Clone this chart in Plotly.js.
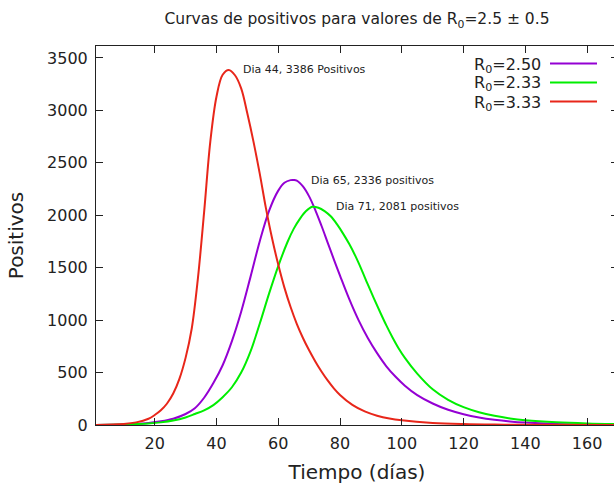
<!DOCTYPE html>
<html>
<head>
<meta charset="utf-8">
<script src="https://cdn.plot.ly/plotly-3.0.1.min.js"></script>
<style>
html,body{margin:0;padding:0;overflow:hidden;background:#fff;}
#chart{width:618px;height:484px;}
</style>
</head>
<body>
<div id="chart"></div>
<script>
// R0 = 2.50 (purple)
const days250 = [1,10,14,18,22,26,30,33,36,39,42,45,48,51,54,57,60,62,64,65,66,68,70,72,74,76,78,80,83,86,89,92,95,98,101,105,110,115,120,125,130,135,140,150,160,170];
const r250    = [1,5,11,20,35,60,105,160,260,400,570,800,1080,1410,1750,2040,2235,2310,2335,2336,2330,2275,2180,2050,1900,1740,1580,1425,1200,1000,830,685,560,460,375,285,205,145,103,72,50,34,23,10,5,2];
// R0 = 2.33 (green)
const days233 = [1,10,14,18,22,26,30,33,36,39,42,45,48,51,54,57,60,63,65,67,69,71,73,75,77,79,81,83,85,87,89,91,93,95,97,99,101,105,110,115,120,125,130,135,140,150,160,170];
const r233    = [1,5,9,15,25,42,72,105,140,190,265,360,500,700,965,1250,1515,1745,1870,1965,2040,2081,2072,2040,1990,1915,1825,1725,1610,1480,1340,1205,1075,950,835,730,640,490,340,240,170,122,88,63,46,26,15,9];
// R0 = 3.33 (red)
const days333 = [1,10,14,18,20,22,24,26,28,30,32,34,36,38,40,42,44,46,48,50,52,54,56,58,60,62,64,66,68,70,72,74,76,78,80,84,88,92,96,100,110,120,130,140,170];
const r333    = [1,10,25,60,95,140,205,300,440,640,920,1400,2030,2700,3130,3340,3386,3335,3210,2970,2700,2400,2070,1780,1530,1310,1125,965,830,712,606,510,425,350,287,192,130,89,62,45,20,9,4,2,0];

const seriesNames = ['R<sub>0</sub>=2.50','R<sub>0</sub>=2.33','R<sub>0</sub>=3.33'];
const seriesX = [days250, days233, days333];
const seriesY = [r250, r233, r333];
const colors = ['#9400d3','#00ee00','#e8261a'];

const peakLabels = ['Dia 44, 3386 Positivos','Dia 65, 2336 positivos','Dia 71, 2081 positivos'];
const peakX = [48.0, 70.0, 78.0];
const peakY = [3386, 2336, 2081];

const font = 'DejaVu Sans, Verdana, sans-serif';

const traces = seriesY.map((ys,i)=>({
  x: seriesX[i], y: ys, type:'scatter', mode:'lines',
  line:{color:colors[i], width:2, shape:'spline', smoothing:1},
  name: seriesNames[i], showlegend:false, hoverinfo:'skip'
}));

const annotations = peakLabels.map((t,i)=>({
  x: peakX[i], y: peakY[i], xref:'x', yref:'y', text:t, showarrow:false,
  xanchor:'left', yanchor:'middle', font:{family:font, size:11, color:'#222'}
}));

// gnuplot-style legend: text right-aligned, line sample on the right (pixel rows)
const legendRowsY = [65, 84, 103];
const lineRowsY = [63.5, 82.5, 101.5];
const plotL = 96, plotW = 522, plotB = 425, plotH = 379;
legendRowsY.forEach((py,i)=>{
  annotations.push({
    x: (543-plotL)/plotW, y: (plotB-py)/plotH, xref:'paper', yref:'paper', text: seriesNames[i], showarrow:false,
    xanchor:'right', yanchor:'middle', font:{family:font, size:16, color:'#222'}
  });
});
const shapes = lineRowsY.map((py,i)=>({
  type:'line', xref:'paper', yref:'paper',
  x0:(550-plotL)/plotW, x1:(597-plotL)/plotW, y0:(plotB-py)/plotH, y1:(plotB-py)/plotH,
  line:{color:colors[i], width:2}
}));

const layout = {
  width:618, height:484,
  margin:{l:96, r:0, t:46, b:59},
  paper_bgcolor:'#fff', plot_bgcolor:'#fff',
  title:{text:'Curvas de positivos para valores de R<sub>0</sub>=2.5 ± 0.5', x:357/618, xanchor:'center', xref:'container', y:1-19/484, yanchor:'middle', yref:'container', font:{family:font, size:15.5, color:'#222'}},
  xaxis:{range:[1,170], tickvals:[20,40,60,80,100,120,140,160], ticks:'inside', ticklen:7, tickcolor:'#222', tickwidth:1,
    showline:true, linecolor:'#222', linewidth:1, mirror:'ticks', showgrid:false, zeroline:false,
    ticklabelstandoff:4,
    tickfont:{family:font, size:16, color:'#222'},
    title:{text:'Tiempo (días)', font:{family:font, size:20, color:'#222'}, standoff:16}},
  yaxis:{range:[0,3614], tickvals:[0,500,1000,1500,2000,2500,3000,3500], ticks:'inside', ticklen:7, tickcolor:'#222', tickwidth:1,
    showline:true, linecolor:'#222', linewidth:1, mirror:'ticks', showgrid:false, zeroline:false,
    ticklabelstandoff:4,
    tickfont:{family:font, size:16, color:'#222'},
    title:{text:'Positivos', font:{family:font, size:20, color:'#222'}, standoff:18}},
  annotations: annotations,
  shapes: shapes
};
Plotly.newPlot('chart', traces, layout, {staticPlot:true, displayModeBar:false});
</script>
</body>
</html>
